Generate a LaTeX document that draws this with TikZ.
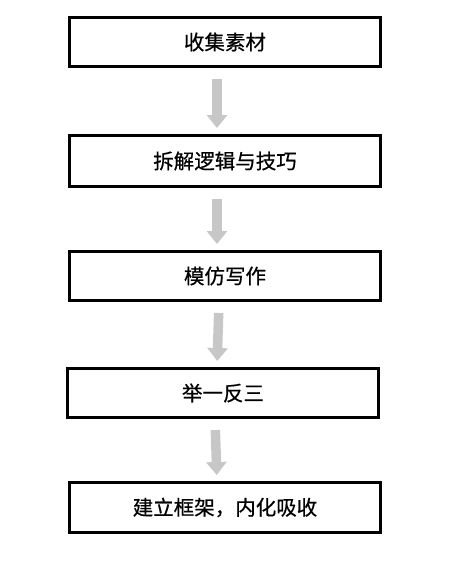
\documentclass[tikz,border=0pt]{standalone}
\usepackage{fontspec}
\newfontfamily\cjk[FakeBold=0.6]{Noto Sans CJK SC}
\usetikzlibrary{arrows.meta}
\begin{document}
\begin{tikzpicture}[x=1pt,y=1pt,
  stepbox/.style={draw=black, line width=3pt, fill=white, minimum width=311pt, minimum height=49pt, inner sep=0pt, font=\cjk\fontsize{20.5}{24}\selectfont, text=black},
  flow/.style={draw=black!22, line width=9.5pt, -{Triangle[width=20pt,length=13pt]}, shorten <=11pt, shorten >=6pt}]
\useasboundingbox (0,0) rectangle (459,-565);
\node[stepbox] (b1) at (225,-42) {收集素材};
\node[stepbox, minimum height=51pt] (b2) at (225,-161) {拆解逻辑与技巧};
\node[stepbox] (b3) at (225,-276) {模仿写作};
\node[stepbox] (b4) at (223,-393) {举一反三};
\node[stepbox, minimum height=50pt] (b5) at (225,-507.5) {建立框架，内化吸收};
\draw[flow] ([xshift=-8pt]b1.south) -- ([xshift=-8pt]b2.north);
\draw[flow] ([xshift=-8pt]b2.south) -- ([xshift=-8pt]b3.north);
\draw[flow] ([xshift=-6pt]b3.south) -- ([xshift=-6pt]b4.north);
\draw[flow] ([xshift=-8pt]b4.south) -- ([xshift=-8pt]b5.north);
\end{tikzpicture}
\end{document}
